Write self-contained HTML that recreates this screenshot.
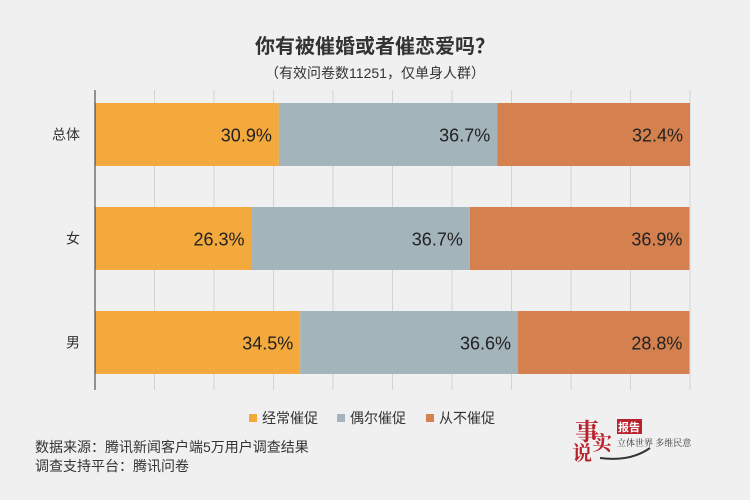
<!DOCTYPE html>
<html><head><meta charset="utf-8"><style>
body{margin:0;background:#f0f0f0;font-family:"Liberation Sans","Noto Sans CJK SC",sans-serif;}
svg{display:block}
</style></head><body>
<svg id="c" width="750" height="500" xmlns="http://www.w3.org/2000/svg">
<rect width="750" height="500" fill="#f0f0f0"/>
<text x="375" y="53" text-anchor="middle" font-size="20" font-weight="bold" fill="#333">你有被催婚或者催恋爱吗？</text>
<text x="375" y="78" text-anchor="middle" font-size="14" fill="#333">（有效问卷数11251，仅单身人群）</text>
<g id="grid"></g>
<g id="bars"></g>
<line x1="95" y1="90" x2="95" y2="390" stroke="#333" stroke-width="1"/>
<g>
<rect x="249" y="414" width="8" height="8" fill="#f3a93b"/>
<text x="262" y="423" font-size="14" fill="#333">经常催促</text>
<rect x="337" y="414" width="8" height="8" fill="#a4b4bb"/>
<text x="350" y="423" font-size="14" fill="#333">偶尔催促</text>
<rect x="426" y="414" width="8" height="8" fill="#d4804f"/>
<text x="439" y="423" font-size="14" fill="#333">从不催促</text>
</g>
<text x="35" y="452" font-size="14" fill="#333">数据来源：腾讯新闻客户端5万用户调查结果</text>
<text x="35" y="471" font-size="14" fill="#333">调查支持平台：腾讯问卷</text>
<g>
<text x="575" y="440" font-size="24" font-family="'Noto Serif CJK SC',serif" fill="#b8222c" font-weight="bold">事</text>
<text x="592" y="450" font-size="20" font-family="'Noto Serif CJK SC',serif" fill="#b8222c" font-weight="bold">实</text>
<text x="572" y="460" font-size="20" font-family="'Noto Serif CJK SC',serif" fill="#b8222c" font-weight="bold">说</text>
<rect x="617" y="419" width="25" height="15" fill="#b8222c"/>
<text x="629" y="431" font-size="11" fill="#fff" text-anchor="middle" font-weight="bold">报告</text>
<text x="617" y="446" font-size="9" fill="#333" font-family="'Noto Serif CJK SC',serif">立体世界 多维民意</text>
<path d="M600 458 Q630 462 650 448" stroke="#333" stroke-width="2" fill="none"/>
</g>
</svg>
<script>
const categories=["总体","女","男"];
const often=[30.9,26.3,34.5];
const sometimes=[36.7,36.7,36.6];
const never=[32.4,36.9,28.8];
const gridTicks=[10,20,30,40,50,60,70,80,90,100];
const NS="http://www.w3.org/2000/svg";
const x0=95,plotW=595;
const xs=v=>x0+v/100*plotW;
const bandTop=[103,207,311],bandH=63;
const yb=i=>bandTop[0]+i*((bandTop[2]-bandTop[0])/2);
const grid=document.getElementById('grid');
gridTicks.forEach(t=>{
 const l=document.createElementNS(NS,'line');
 l.setAttribute('x1',xs(t));l.setAttribute('x2',xs(t));
 l.setAttribute('y1',90);l.setAttribute('y2',390);
 l.setAttribute('stroke','#d4d4d4');l.setAttribute('stroke-width','1');
 
 
 grid.appendChild(l);
});
const g=document.getElementById('bars');
const series=[["often",often,"#f3a93b"],["sometimes",sometimes,"#a4b4bb"],["never",never,"#d4804f"]];
categories.forEach((c,i)=>{
 const y=yb(i);
 const lab=document.createElementNS(NS,'text');
 lab.setAttribute('x',80);lab.setAttribute('y',y+bandH/2+5);
 lab.setAttribute('text-anchor','end');lab.setAttribute('font-size','14');lab.setAttribute('fill','#333');
 lab.textContent=c;
 
 
 g.appendChild(lab);
 let acc=0;
 series.forEach(([n,arr,col])=>{
  const v=arr[i];
  const r=document.createElementNS(NS,'rect');
  r.setAttribute('x',xs(acc));r.setAttribute('y',y);
  r.setAttribute('width',xs(acc+v)-xs(acc));r.setAttribute('height',bandH);
  r.setAttribute('fill',col);
  
  
  g.appendChild(r);
  acc+=v;
  const t=document.createElementNS(NS,'text');
  t.setAttribute('x',xs(acc)-7);t.setAttribute('y',y+bandH/2+7);
  t.setAttribute('text-anchor','end');t.setAttribute('font-size','18');t.setAttribute('fill','#222');
  t.textContent=v.toFixed(1)+'%';
  
  
  g.appendChild(t);
 });
});
</script>
</body></html>
